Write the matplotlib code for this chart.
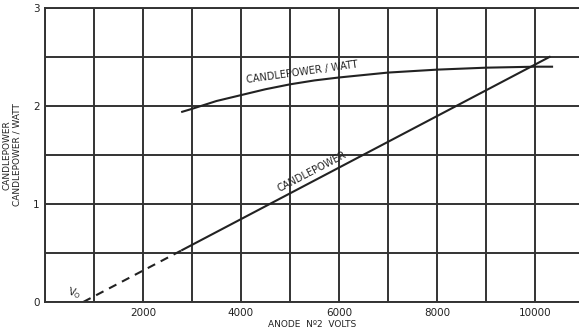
import numpy as np
import matplotlib
matplotlib.use('Agg')
import matplotlib.pyplot as plt

# 数据
volts_cpw = [2800, 3000, 3500, 4000, 4500, 5000, 5500, 6000, 7000, 8000, 9000, 10000, 10350]
cp_per_watt = [1.94, 1.97, 2.05, 2.11, 2.17, 2.22, 2.26, 2.29, 2.34, 2.37, 2.39, 2.40, 2.40]

volts_cp_dash = [780, 2800]
cp_dash = [0.0, 0.53]
volts_cp = [2800, 10300]
cp = [0.53, 2.50]

xticks = [2000, 4000, 6000, 8000, 10000]
yticks = [0, 1, 2, 3]

plt.rcParams['font.family'] = ['DejaVu Sans']
fig = plt.figure(figsize=(5.79, 3.35), dpi=100)
ax = fig.add_axes([0.0777, 0.0985, 0.9223, 0.878])

ax.set_xlim(0, 10900)
ax.set_ylim(0, 3)
ax.set_xticks(np.arange(0, 11000, 1000), minor=True)
ax.set_yticks(np.arange(0, 3.01, 0.5), minor=True)
ax.set_xticks(xticks)
ax.set_yticks(yticks)
ax.grid(which='both', color='#333333', linewidth=1.4)
ax.tick_params(which='both', length=0, labelsize=7.5, colors='#222222', pad=4)
ax.spines['right'].set_visible(False)
for s in ['left', 'top', 'bottom']:
    ax.spines[s].set_color('#333333')
    ax.spines[s].set_linewidth(1.4)

ax.plot(volts_cpw, cp_per_watt, color='#222222', lw=1.5)
ax.plot(volts_cp, cp, color='#222222', lw=1.5)
ax.plot(volts_cp_dash, cp_dash, color='#222222', lw=1.5, dashes=(4, 3))

ax.text(5250, 2.34, 'CANDLEPOWER / WATT', fontsize=7, rotation=8,
        ha='center', va='center', color='#222222')
ax.text(5450, 1.33, 'CANDLEPOWER', fontsize=7, rotation=27.5,
        ha='center', va='center', color='#222222')
ax.text(600, 0.09, r'V$_{\mathrm{O}}$', fontsize=7, rotation=-15,
        ha='center', va='center', color='#222222')

ax.set_xlabel('ANODE  N\u00ba2  VOLTS', fontsize=6.5, color='#222222', labelpad=2)
ax.set_ylabel('CANDLEPOWER\nCANDLEPOWER / WATT', fontsize=6.5, color='#222222',
              labelpad=8, linespacing=1.1)

fig.savefig('out.png', dpi=100)
